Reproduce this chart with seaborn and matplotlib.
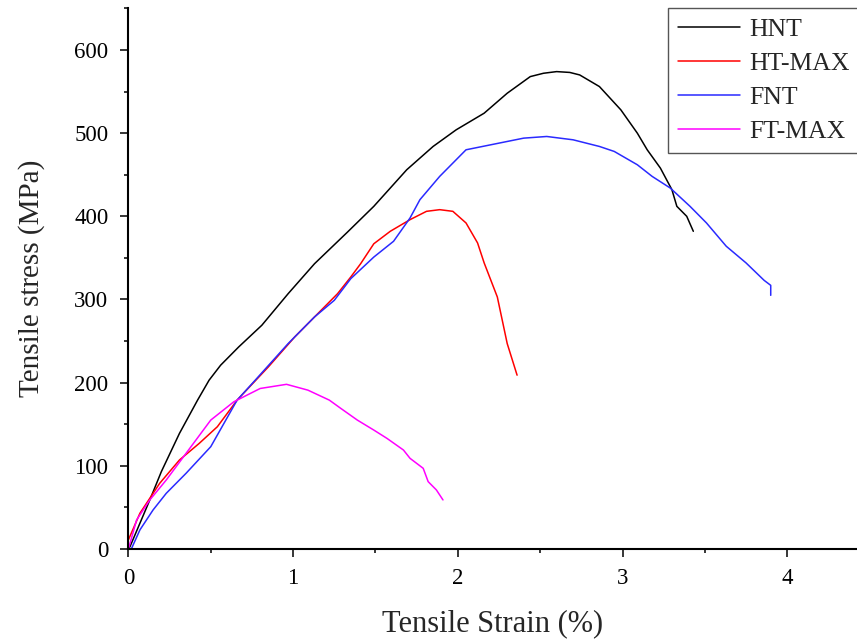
import matplotlib
matplotlib.use("Agg")
import matplotlib.pyplot as plt
import pandas as pd
import seaborn as sns
from matplotlib.lines import Line2D
from matplotlib.ticker import MultipleLocator

# ---- data ----
series_names = ["HNT", "HT-MAX", "FNT", "FT-MAX"]
series_colors = ["#000000", "#ff0000", "#2a2aff", "#ff00ff"]

hnt_x = [0, 0.01, 0.13, 0.20, 0.31, 0.42, 0.49, 0.56, 0.67, 0.81, 0.97, 1.13, 1.33, 1.49, 1.69,
         1.85, 1.99, 2.16, 2.30, 2.44, 2.52, 2.60, 2.68, 2.74, 2.86, 2.99, 3.09, 3.15, 3.23, 3.30,
         3.33, 3.39, 3.43]
hnt_y = [0, 3, 59, 93, 139, 179, 203, 221, 243, 269, 307, 343, 381, 412, 456,
         484, 504, 524, 548, 568, 572, 574, 573, 570, 556, 528, 500, 480, 458, 432,
         412, 400, 382]

htmax_x = [0, 0.07, 0.19, 0.31, 0.43, 0.54, 0.66, 0.85, 1.01, 1.15, 1.27, 1.35, 1.41, 1.49,
           1.59, 1.71, 1.81, 1.89, 1.97, 2.05, 2.12, 2.16, 2.24, 2.27, 2.30, 2.36]
htmax_y = [11, 43, 79, 107, 127, 147, 179, 219, 255, 283, 307, 327, 343, 367,
           382, 396, 406, 408, 406, 392, 368, 344, 303, 275, 247, 209]

fnt_x = [0.02, 0.07, 0.15, 0.23, 0.35, 0.50, 0.66, 0.77, 0.97, 1.13, 1.25, 1.35, 1.49, 1.61,
         1.71, 1.77, 1.89, 1.99, 2.05, 2.20, 2.40, 2.54, 2.70, 2.86, 2.95, 3.09, 3.18, 3.29,
         3.41, 3.51, 3.63, 3.75, 3.86, 3.90, 3.90]
fnt_y = [1, 23, 47, 67, 91, 123, 179, 203, 247, 279, 299, 325, 351, 370,
         398, 420, 448, 468, 480, 486, 494, 496, 492, 484, 478, 462, 448, 434,
         412, 392, 364, 344, 323, 317, 305]

ftmax_x = [0, 0.05, 0.13, 0.23, 0.35, 0.50, 0.64, 0.80, 0.96, 1.09, 1.22, 1.29, 1.39, 1.49,
           1.57, 1.67, 1.71, 1.79, 1.82, 1.87, 1.91]
ftmax_y = [0, 35, 59, 83, 115, 155, 177, 193, 198, 191, 179, 169, 155, 143,
           133, 119, 109, 97, 81, 71, 59]

x_ticks = [0, 1, 2, 3, 4]
y_ticks = [0, 100, 200, 300, 400, 500, 600]

# ---- long-form table ----
frames = []
for name, xs, ys in zip(series_names,
                        [hnt_x, htmax_x, fnt_x, ftmax_x],
                        [hnt_y, htmax_y, fnt_y, ftmax_y]):
    frames.append(pd.DataFrame({"strain": xs, "stress": ys, "sample": name}))
df = pd.concat(frames, ignore_index=True)
palette = dict(zip(series_names, series_colors))

sns.set_theme(style="ticks")
plt.rcParams["font.family"] = ["Liberation Serif", "DejaVu Serif"]

W, H = 857, 640
fig = plt.figure(figsize=(W / 100, H / 100), dpi=100)
x0, y0, x1, y1 = 128.4, 549, 857, 8
ax = fig.add_axes([x0 / W, 1 - y0 / H, (x1 - x0) / W, (y0 - y1) / H])

sns.lineplot(data=df, x="strain", y="stress", hue="sample", hue_order=series_names,
             palette=palette, sort=False, estimator=None, linewidth=1.1,
             legend=False, ax=ax)

ax.set_xlim(0, (x1 - x0) / 164.7)
ax.set_ylim(0, (y0 - y1) / 0.8317)
ax.set_xticks(x_ticks)
ax.set_yticks(y_ticks)
ax.xaxis.set_minor_locator(MultipleLocator(0.5))
ax.yaxis.set_minor_locator(MultipleLocator(50))

for s in ["top", "right"]:
    ax.spines[s].set_visible(False)
for s in ["left", "bottom"]:
    ax.spines[s].set_linewidth(1.5)
    ax.spines[s].set_color("black")

ax.tick_params(which="major", direction="out", length=5.5, width=1.1, colors="black",
               labelsize=16.5)
ax.tick_params(axis="y", which="major", pad=9)
ax.tick_params(axis="x", which="major", pad=8)
ax.tick_params(which="minor", direction="out", length=3, width=1.1, colors="black")

ax.set_xlabel("Tensile Strain (%)", fontsize=22, labelpad=15)
ax.set_ylabel("Tensile stress (MPa)", fontsize=21, labelpad=21)

handles = [Line2D([], [], color=c, lw=1.1) for c in series_colors]
leg = fig.legend(handles, series_names, loc="upper left",
                 bbox_to_anchor=(668 / W, 1 - 8 / H), bbox_transform=fig.transFigure,
                 borderaxespad=0, frameon=True, fancybox=False, framealpha=1,
                 fontsize=18.5, handlelength=2.4, handletextpad=0.35,
                 labelspacing=0.42, borderpad=0.4)
leg.get_frame().set_edgecolor("#555555")
leg.get_frame().set_linewidth(1.0)

fig.savefig("out.png", dpi=100)
